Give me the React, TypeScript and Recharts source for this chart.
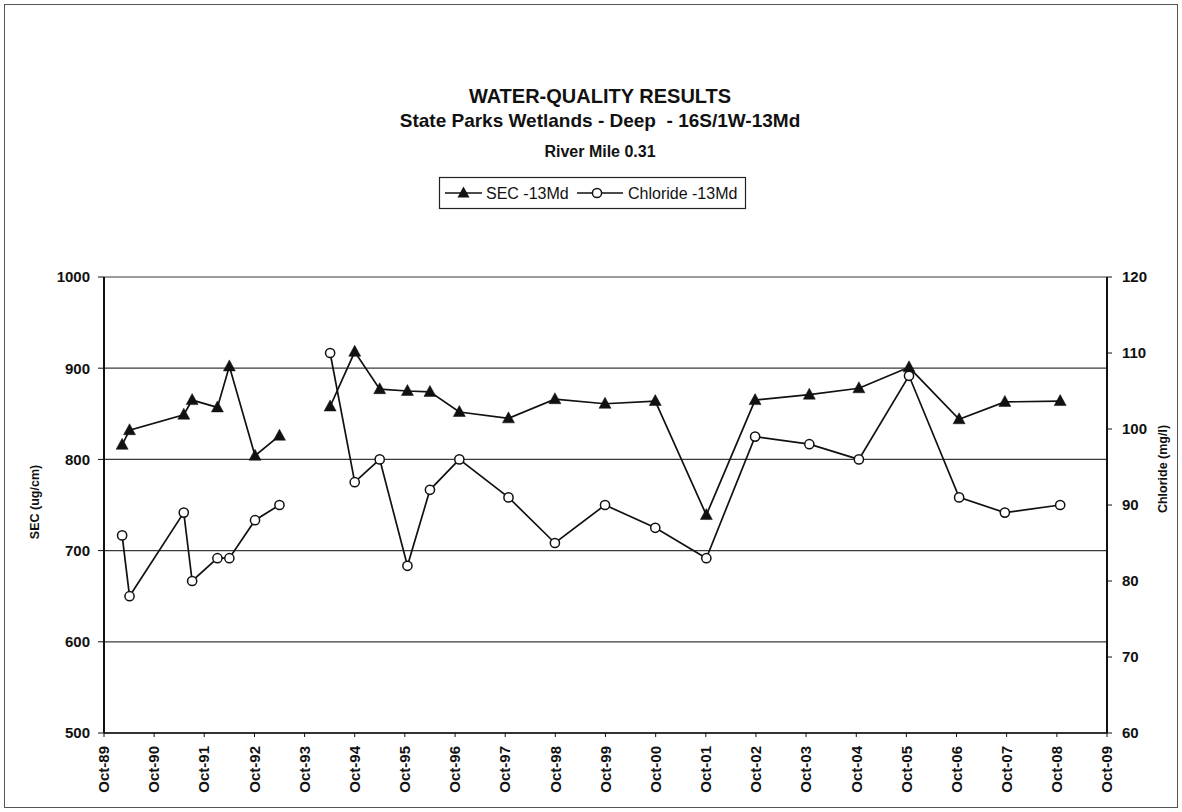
import React from "react";
import { LineChart, Line, XAxis, YAxis, CartesianGrid } from "recharts";

const INK = "#111111";
const GRID = "#3a3a3a";
const FONT = "Arial, 'Liberation Sans', Helvetica, sans-serif";

// sampling dates (a null row marks the gap in 1993)
const sampleDates = [
  "1990-02-10", "1990-04-05", "1991-05-05", "1991-07-05", "1992-01-05",
  "1992-04-01", "1992-10-05", "1993-04-01", "1993-10-01",
  "1994-04-05", "1994-10-01", "1995-04-01", "1995-10-20", "1996-04-01",
  "1996-11-01", "1997-10-25", "1998-09-28", "1999-09-28", "2000-09-28",
  "2001-10-05", "2002-09-25", "2003-10-25", "2004-10-20", "2005-10-20",
  "2006-10-20", "2007-09-18", "2008-10-25",
];

const secValues = [
  816, 832, 849, 865, 857, 902, 804, 826, null,
  858, 918, 877, 875, 874, 852, 845, 866, 861, 864,
  739, 865, 871, 878, 901, 844, 863, 864,
];

const chlorideValues = [
  86, 78, 89, 80, 83, 83, 88, 90, null,
  110, 93, 96, 82, 92, 96, 91, 85, 90, 87,
  83, 99, 98, 96, 107, 91, 89, 90,
];

const xTickLabels = [
  "Oct-89", "Oct-90", "Oct-91", "Oct-92", "Oct-93", "Oct-94", "Oct-95",
  "Oct-96", "Oct-97", "Oct-98", "Oct-99", "Oct-00", "Oct-01", "Oct-02",
  "Oct-03", "Oct-04", "Oct-05", "Oct-06", "Oct-07", "Oct-08", "Oct-09",
];
const secTicks = [500, 600, 700, 800, 900, 1000];
const chlorideTicks = [60, 70, 80, 90, 100, 110, 120];

const toTime = (iso: string) => {
  const [y, m, d] = iso.split("-").map(Number);
  return Date.UTC(y, m - 1, d);
};
const labelToTime = (label: string) => {
  const yy = Number(label.slice(4));
  return Date.UTC(yy > 50 ? 1900 + yy : 2000 + yy, 9, 1);
};

const xTicks = xTickLabels.map(labelToTime);
const tickText = new Map(xTicks.map((t, i) => [t, xTickLabels[i]]));

const data = sampleDates.map((d, i) => ({
  t: toTime(d),
  sec: secValues[i],
  chloride: chlorideValues[i],
}));

const Triangle = (props: any) => {
  const { cx, cy } = props;
  if (cx == null || cy == null || props.value == null) return null;
  return (
    <path
      d={`M${cx},${cy - 6.5} L${cx + 6},${cy + 4.5} L${cx - 6},${cy + 4.5} Z`}
      fill={INK}
      stroke={INK}
      strokeWidth={0.5}
    />
  );
};

const Ring = (props: any) => {
  const { cx, cy } = props;
  if (cx == null || cy == null || props.value == null) return null;
  return <circle cx={cx} cy={cy} r={4.6} fill="#fff" stroke={INK} strokeWidth={1.5} />;
};

const DateTick = ({ x, y, payload }: any) => (
  <text
    x={x}
    y={y}
    transform={`rotate(-90 ${x} ${y})`}
    textAnchor="end"
    dy="0.35em"
    fontFamily={FONT}
    fontWeight={700}
    fontSize={15}
    fill={INK}
  >
    {tickText.get(payload.value)}
  </text>
);

const tickStyle = { fontFamily: FONT, fontWeight: 700, fontSize: 15, fill: INK };

export default function App() {
  return (
    <div
      style={{
        position: "absolute",
        left: 0,
        top: 0,
        width: 1182,
        height: 812,
        background: "#fff",
      }}
    >
      <LineChart
        width={1182}
        height={812}
        data={data}
        margin={{ top: 277, right: 0, bottom: 0, left: 0 }}
      >
        <CartesianGrid
          yAxisId="sec"
          vertical={false}
          stroke={GRID}
          strokeWidth={1.2}
        />
        <XAxis
          dataKey="t"
          type="number"
          domain={[xTicks[0], xTicks[xTicks.length - 1]]}
          ticks={xTicks}
          interval={0}
          height={79}
          tick={<DateTick />}
          tickSize={4}
          tickMargin={9}
          axisLine={{ stroke: INK, strokeWidth: 1.6 }}
          tickLine={{ stroke: INK }}
          allowDataOverflow
        />
        <YAxis
          yAxisId="sec"
          orientation="left"
          width={104}
          domain={[500, 1000]}
          ticks={secTicks}
          interval={0}
          tick={tickStyle}
          tickSize={6}
          tickMargin={8}
          axisLine={{ stroke: INK, strokeWidth: 2 }}
          tickLine={{ stroke: INK }}
        />
        <YAxis
          yAxisId="cl"
          orientation="right"
          width={75}
          domain={[60, 120]}
          ticks={chlorideTicks}
          interval={0}
          tick={tickStyle}
          tickSize={5}
          tickMargin={10}
          axisLine={{ stroke: INK, strokeWidth: 2 }}
          tickLine={{ stroke: INK }}
        />
        <Line
          yAxisId="sec"
          dataKey="sec"
          type="linear"
          stroke={INK}
          strokeWidth={1.7}
          dot={<Triangle />}
          activeDot={false}
          isAnimationActive={false}
        />
        <Line
          yAxisId="cl"
          dataKey="chloride"
          type="linear"
          stroke={INK}
          strokeWidth={1.7}
          dot={<Ring />}
          activeDot={false}
          isAnimationActive={false}
        />
      </LineChart>

      <svg
        width={1182}
        height={812}
        style={{ position: "absolute", left: 0, top: 0, pointerEvents: "none" }}
        fontFamily={FONT}
        fill={INK}
      >
        <rect x={4.5} y={4.5} width={1173} height={803} fill="none" stroke="#555" strokeWidth={1} />
        <text x={600} y={103} textAnchor="middle" fontWeight={700} fontSize={20}>
          WATER-QUALITY RESULTS
        </text>
        <text x={600} y={127} textAnchor="middle" fontWeight={700} fontSize={19} style={{ whiteSpace: "pre" }}>
          {"State Parks Wetlands - Deep  - 16S/1W-13Md"}
        </text>
        <text x={600} y={157} textAnchor="middle" fontWeight={700} fontSize={16}>
          River Mile 0.31
        </text>

        <rect x={439.5} y={177.5} width={306} height={31} fill="#fff" stroke="#222" strokeWidth={1.2} />
        <line x1={445} x2={482} y1={193} y2={193} stroke={INK} strokeWidth={1.5} />
        <path d="M463.5,186.5 L469.5,197.5 L457.5,197.5 Z" fill={INK} />
        <text x={486} y={199} fontSize={16}>SEC -13Md</text>
        <line x1={577} x2={623} y1={193} y2={193} stroke={INK} strokeWidth={1.5} />
        <circle cx={597} cy={193} r={4.6} fill="#fff" stroke={INK} strokeWidth={1.5} />
        <text x={628} y={199} fontSize={16}>Chloride -13Md</text>

        <text
          x={35}
          y={502}
          transform="rotate(-90 35 502)"
          textAnchor="middle"
          dy="0.35em"
          fontWeight={700}
          fontSize={12.5}
        >
          SEC (ug/cm)
        </text>
        <text
          x={1163}
          y={469}
          transform="rotate(-90 1163 469)"
          textAnchor="middle"
          dy="0.35em"
          fontWeight={700}
          fontSize={12.5}
        >
          Chloride (mg/l)
        </text>
      </svg>
    </div>
  );
}
